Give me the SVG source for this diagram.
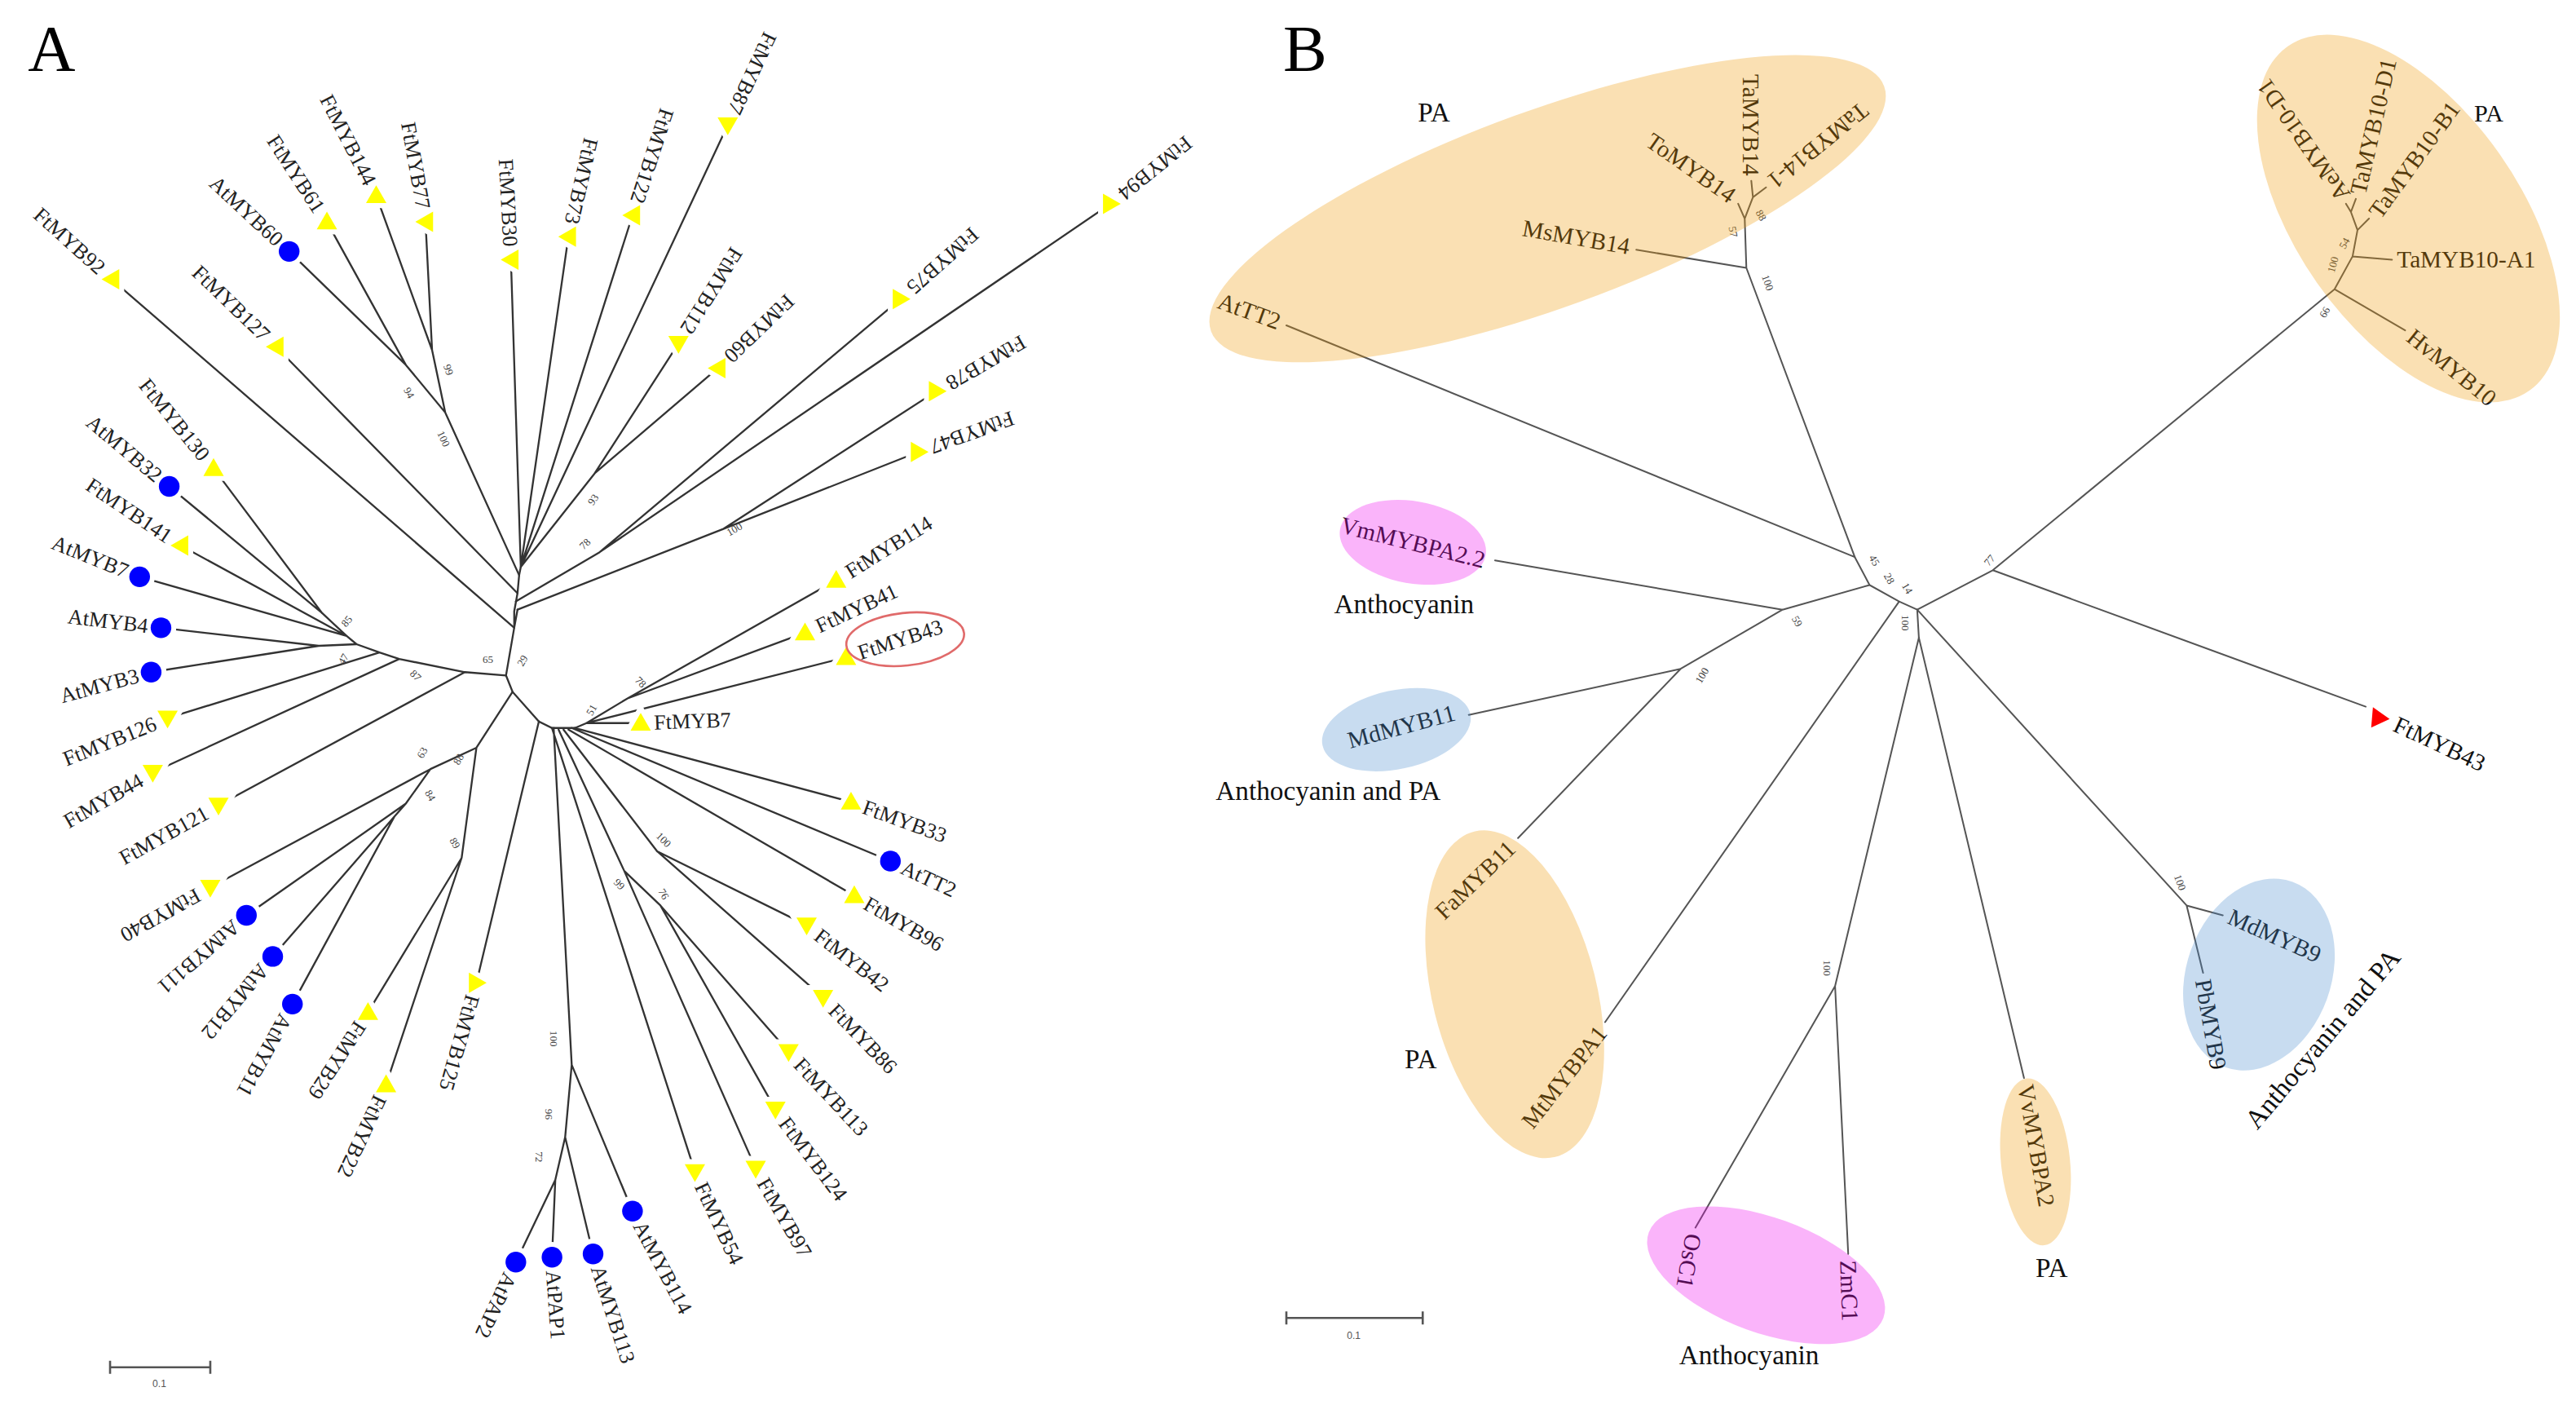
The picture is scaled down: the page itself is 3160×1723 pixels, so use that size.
<svg xmlns="http://www.w3.org/2000/svg" width="3160" height="1723" viewBox="0 0 3160 1723">
<defs>
<style>
.la{font-family:"Liberation Serif",serif;font-size:13px;fill:#222;dominant-baseline:central}
.lb{font-family:"Liberation Serif",serif;font-size:14.5px;fill:#111;dominant-baseline:central}
.gl{font-family:"Liberation Serif",serif;font-size:16.5px;fill:#111}
.bs{font-family:"Liberation Serif",serif;font-size:6.5px;fill:#444;text-anchor:middle;dominant-baseline:central}
.pl{font-family:"Liberation Serif",serif;font-size:40px;fill:#000}
.ed{fill:none;stroke:#333;stroke-width:1.15;stroke-linecap:round}
.edb{fill:none;stroke:#555;stroke-width:1;stroke-linecap:round}
.ty{fill:#FFFF00;stroke:#fff;stroke-width:6;paint-order:stroke}
.tr{fill:#FF0000;stroke:#fff;stroke-width:4;paint-order:stroke}
.cb{fill:#0000FF;stroke:#fff;stroke-width:6;paint-order:stroke}
.eo{fill:#EE9802;fill-opacity:0.3}
.ep{fill:#EE05EE;fill-opacity:0.3}
.eb{fill:#488ACD;fill-opacity:0.3}
.sb{fill:none;stroke:#555;stroke-width:1.3}
.sl{font-family:"Liberation Sans",sans-serif;font-size:6px;fill:#555;text-anchor:middle}
</style>
<path id="tri" d="M0,-6.2 L6.2,4.6 L-6.2,4.6Z"/>
</defs>
<rect width="3160" height="1723" fill="#fff"/>
<g transform="scale(2.01531)">
<text class="pl" x="17" y="43">A</text>
<text class="pl" x="781" y="43">B</text>

<g id="edges-a" class="ed">
<path d="M315,371 L313,382 L308,411 L312,421 L328,439 L336,443 L350,443 M313,382 L313,372 L315,361 L316,350 L317,345"/>
<path d="M313,382 L68,170 M315,361 L168,211 M316,350 L271,251 L247,222 M247,222 L176,153 M247,222 L199,135 M271,251 L263,213 M263,213 L229,119 M263,213 L259,135"/>
<path d="M317,345 L311,158 M317,345 L346,144 M317,345 L385,131 M317,345 L443,76 M317,345 L362,288 M362,288 L413,209 M362,288 L437,224"/>
<path d="M314,366 L365,336 M365,336 L548,182 M365,336 L676,124 M315,371 L440,322 M440,322 L570,238 M440,322 L559,275"/>
<path d="M308,411 L283,409 M283,409 L133,490 M283,409 L243,401 M243,401 L93,470 M243,401 L231,397 M231,397 L102,437 M231,397 L217,392 M217,392 L211,387 M217,392 L194,393 M194,393 L98,382 M194,393 L92,409 M211,387 L85,351 M211,387 L110,332 M211,387 L196,373 M196,373 L130,285 M196,373 L103,296"/>
<path d="M312,421 L290,455 M290,455 L262,468 M262,468 L128,540 M262,468 L247,489 M247,489 L150,557 M247,489 L240,497 M240,497 L166,582 M240,497 L178,611 M290,455 L281,522 M281,522 L224,616 M281,522 L235,660 M328,439 L290,598"/>
<path d="M337,443 L348,648 M348,648 L385,737 M348,648 L344,692 M344,692 L361,763 M344,692 L338,718 M338,718 L314,768 M338,718 L336,765 M336,443 L423,713"/>
<path d="M340,444 L380,530 M380,530 L460,711 M380,530 L402,551 M402,551 L472,675 M402,551 L480,640 M343,444 L400,518 M400,518 L501,607 M400,518 L491,563 M346,444 L520,545 M348,443 L542,524 M350,443 L518,488"/>
<path d="M350,443 L357,440 M357,440 L390,440 M357,440 L515,400 M357,440 L382,425 M382,425 L509,353 M382,425 L490,385"/>
</g>

<g id="bootstrap-a">
<text class="bs" transform="translate(249 239) rotate(60)">94</text>
<text class="bs" transform="translate(273 225) rotate(70)">99</text>
<text class="bs" transform="translate(270 267) rotate(65)">100</text>
<text class="bs" transform="translate(361 304) rotate(-55)">93</text>
<text class="bs" transform="translate(356 331) rotate(-45)">78</text>
<text class="bs" transform="translate(447 322) rotate(-30)">100</text>
<text class="bs" transform="translate(297 401)">65</text>
<text class="bs" transform="translate(318 402) rotate(-60)">29</text>
<text class="bs" transform="translate(253 411) rotate(45)">87</text>
<text class="bs" transform="translate(211 378) rotate(-50)">85</text>
<text class="bs" transform="translate(209 401) rotate(-60)">47</text>
<text class="bs" transform="translate(257 458) rotate(-60)">63</text>
<text class="bs" transform="translate(279 462) rotate(-60)">88</text>
<text class="bs" transform="translate(262 484) rotate(60)">84</text>
<text class="bs" transform="translate(277 513) rotate(60)">89</text>
<text class="bs" transform="translate(360 432) rotate(-60)">51</text>
<text class="bs" transform="translate(390 415) rotate(45)">78</text>
<text class="bs" transform="translate(404 511) rotate(45)">100</text>
<text class="bs" transform="translate(377 538) rotate(45)">99</text>
<text class="bs" transform="translate(404 544) rotate(60)">76</text>
<text class="bs" transform="translate(337 632) rotate(90)">100</text>
<text class="bs" transform="translate(334 678) rotate(90)">96</text>
<text class="bs" transform="translate(328 704) rotate(90)">72</text>
</g>

<g id="a-FtMYB92"><use href="#tri" class="ty" transform="translate(68 170) rotate(-90)"/><text class="la" text-anchor="end" transform="translate(62.1 164.6) rotate(42)">FtMYB92</text></g>
<g id="a-FtMYB127"><use href="#tri" class="ty" transform="translate(168 211) rotate(-90)"/><text class="la" text-anchor="end" transform="translate(162.2 205.4) rotate(44)">FtMYB127</text></g>
<g id="a-AtMYB60"><circle class="cb" cx="176" cy="153" r="6.3"/><text class="la" text-anchor="end" transform="translate(170.2 147.5) rotate(43)">AtMYB60</text></g>
<g id="a-FtMYB61"><use href="#tri" class="ty" transform="translate(199 135)"/><text class="la" text-anchor="end" transform="translate(194.6 128.3) rotate(57)">FtMYB61</text></g>
<g id="a-FtMYB144"><use href="#tri" class="ty" transform="translate(229 119)"/><text class="la" text-anchor="end" transform="translate(225.4 111.9) rotate(63)">FtMYB144</text></g>
<g id="a-FtMYB77"><use href="#tri" class="ty" transform="translate(259 135) rotate(-90)"/><text class="la" text-anchor="end" transform="translate(257.6 127.1) rotate(80)">FtMYB77</text></g>
<g id="a-FtMYB30"><use href="#tri" class="ty" transform="translate(311 158) rotate(-90)"/><text class="la" text-anchor="end" transform="translate(310.6 150) rotate(87)">FtMYB30</text></g>
<g id="a-FtMYB73"><use href="#tri" class="ty" transform="translate(346 144) rotate(-90)"/><text class="la" text-anchor="end" transform="translate(347.8 136.2) rotate(103)">FtMYB73</text></g>
<g id="a-FtMYB122"><use href="#tri" class="ty" transform="translate(385 131) rotate(-90)"/><text class="la" text-anchor="end" transform="translate(387.5 123.4) rotate(108)">FtMYB122</text></g>
<g id="a-FtMYB87"><use href="#tri" class="ty" transform="translate(443 76) rotate(180)"/><text class="la" text-anchor="end" transform="translate(446.4 68.8) rotate(115)">FtMYB87</text></g>
<g id="a-FtMYB112"><use href="#tri" class="ty" transform="translate(413 209) rotate(180)"/><text class="la" text-anchor="end" transform="translate(417.2 202.2) rotate(122)">FtMYB112</text></g>
<g id="a-FtMYB60"><use href="#tri" class="ty" transform="translate(437 224) rotate(-90)"/><text class="la" text-anchor="end" transform="translate(442.8 218.4) rotate(136)">FtMYB60</text></g>
<g id="a-FtMYB75"><use href="#tri" class="ty" transform="translate(548 182) rotate(90)"/><text class="la" text-anchor="end" transform="translate(553.9 176.6) rotate(138)">FtMYB75</text></g>
<g id="a-FtMYB94"><use href="#tri" class="ty" transform="translate(676 124) rotate(90)"/><text class="la" text-anchor="end" transform="translate(682.2 119) rotate(141)">FtMYB94</text></g>
<g id="a-FtMYB78"><use href="#tri" class="ty" transform="translate(570 238) rotate(90)"/><text class="la" text-anchor="end" transform="translate(576.9 234) rotate(150)">FtMYB78</text></g>
<g id="a-FtMYB47"><use href="#tri" class="ty" transform="translate(559 275) rotate(90)"/><text class="la" text-anchor="end" transform="translate(566.5 272.3) rotate(160)">FtMYB47</text></g>
<g id="a-FtMYB114"><use href="#tri" class="ty" transform="translate(509 353)"/><text class="la" transform="translate(515.8 348.8) rotate(-32)">FtMYB114</text></g>
<g id="a-FtMYB41"><use href="#tri" class="ty" transform="translate(490 385)"/><text class="la" transform="translate(497.2 381.6) rotate(-25)">FtMYB41</text></g>
<g id="a-FtMYB43"><use href="#tri" class="ty" transform="translate(515 400)"/><text class="la" transform="translate(522.6 397.5) rotate(-18)">FtMYB43</text><ellipse cx="551" cy="389" rx="36" ry="16" transform="rotate(-6 551 389)" fill="none" stroke="#E06A6A" stroke-width="1.3"/></g>
<g id="a-FtMYB7"><use href="#tri" class="ty" transform="translate(390 440)"/><text class="la" transform="translate(398 439.7) rotate(-2)">FtMYB7</text></g>
<g id="a-FtMYB33"><use href="#tri" class="ty" transform="translate(518 488)"/><text class="la" transform="translate(525.5 490.7) rotate(20)">FtMYB33</text></g>
<g id="a-AtTT2"><circle class="cb" cx="542" cy="524" r="6.3"/><text class="la" transform="translate(549.2 527.4) rotate(25)">AtTT2</text></g>
<g id="a-FtMYB96"><use href="#tri" class="ty" transform="translate(520 545)"/><text class="la" transform="translate(526.9 549) rotate(30)">FtMYB96</text></g>
<g id="a-FtMYB42"><use href="#tri" class="ty" transform="translate(491 563) rotate(180)"/><text class="la" transform="translate(497.3 567.9) rotate(38)">FtMYB42</text></g>
<g id="a-FtMYB86"><use href="#tri" class="ty" transform="translate(501 607) rotate(180)"/><text class="la" transform="translate(506.6 612.8) rotate(46)">FtMYB86</text></g>
<g id="a-FtMYB113"><use href="#tri" class="ty" transform="translate(480 640) rotate(180)"/><text class="la" transform="translate(485.5 645.8) rotate(47)">FtMYB113</text></g>
<g id="a-FtMYB124"><use href="#tri" class="ty" transform="translate(472 675) rotate(180)"/><text class="la" transform="translate(476.8 681.4) rotate(53)">FtMYB124</text></g>
<g id="a-FtMYB97"><use href="#tri" class="ty" transform="translate(460 711) rotate(180)"/><text class="la" transform="translate(464 717.9) rotate(60)">FtMYB97</text></g>
<g id="a-FtMYB54"><use href="#tri" class="ty" transform="translate(423 713) rotate(180)"/><text class="la" transform="translate(426.4 720.2) rotate(65)">FtMYB54</text></g>
<g id="a-AtMYB114"><circle class="cb" cx="385" cy="737" r="6.3"/><text class="la" transform="translate(388.8 744.1) rotate(62)">AtMYB114</text></g>
<g id="a-AtMYB113"><circle class="cb" cx="361" cy="763" r="6.3"/><text class="la" transform="translate(363.5 770.6) rotate(72)">AtMYB113</text></g>
<g id="a-AtPAP1"><circle class="cb" cx="336" cy="765" r="6.3"/><text class="la" transform="translate(336.6 773) rotate(86)">AtPAP1</text></g>
<g id="a-AtPAP2"><circle class="cb" cx="314" cy="768" r="6.3"/><text class="la" transform="translate(310.6 775.2) rotate(115)">AtPAP2</text></g>
<g id="a-FtMYB22"><use href="#tri" class="ty" transform="translate(235 660)"/><text class="la" transform="translate(231.6 667.2) rotate(115)">FtMYB22</text></g>
<g id="a-FtMYB125"><use href="#tri" class="ty" transform="translate(290 598) rotate(90)"/><text class="la" transform="translate(287.8 605.7) rotate(106)">FtMYB125</text></g>
<g id="a-FtMYB29"><use href="#tri" class="ty" transform="translate(224 616)"/><text class="la" transform="translate(219.6 622.7) rotate(123)">FtMYB29</text></g>
<g id="a-AtMYB11"><circle class="cb" cx="178" cy="611" r="6.3"/><text class="la" transform="translate(174.1 618) rotate(119)">AtMYB11</text></g>
<g id="a-AtMYB12"><circle class="cb" cx="166" cy="582" r="6.3"/><text class="la" transform="translate(160.9 588.1) rotate(130)">AtMYB12</text></g>
<g id="a-AtMYB111"><circle class="cb" cx="150" cy="557" r="6.3"/><text class="la" transform="translate(144 562.2) rotate(139)">AtMYB111</text></g>
<g id="a-FtMYB40"><use href="#tri" class="ty" transform="translate(128 540) rotate(180)"/><text class="la" transform="translate(121 543.9) rotate(151)">FtMYB40</text></g>
<g id="a-FtMYB121"><use href="#tri" class="ty" transform="translate(133 490) rotate(180)"/><text class="la" text-anchor="end" transform="translate(126 493.9) rotate(-29)">FtMYB121</text></g>
<g id="a-FtMYB44"><use href="#tri" class="ty" transform="translate(93 470) rotate(180)"/><text class="la" text-anchor="end" transform="translate(86.1 474) rotate(-30)">FtMYB44</text></g>
<g id="a-FtMYB126"><use href="#tri" class="ty" transform="translate(102 437) rotate(180)"/><text class="la" text-anchor="end" transform="translate(94.6 440) rotate(-22)">FtMYB126</text></g>
<g id="a-AtMYB3"><circle class="cb" cx="92" cy="409" r="6.3"/><text class="la" text-anchor="end" transform="translate(84.3 411.1) rotate(-15)">AtMYB3</text></g>
<g id="a-AtMYB4"><circle class="cb" cx="98" cy="382" r="6.3"/><text class="la" text-anchor="end" transform="translate(90.1 381) rotate(7)">AtMYB4</text></g>
<g id="a-AtMYB7"><circle class="cb" cx="85" cy="351" r="6.3"/><text class="la" text-anchor="end" transform="translate(77.6 348) rotate(22)">AtMYB7</text></g>
<g id="a-FtMYB141"><use href="#tri" class="ty" transform="translate(110 332) rotate(-90)"/><text class="la" text-anchor="end" transform="translate(103.4 327.5) rotate(34)">FtMYB141</text></g>
<g id="a-AtMYB32"><circle class="cb" cx="103" cy="296" r="6.3"/><text class="la" text-anchor="end" transform="translate(96.9 290.9) rotate(40)">AtMYB32</text></g>
<g id="a-FtMYB130"><use href="#tri" class="ty" transform="translate(130 285)"/><text class="la" text-anchor="end" transform="translate(125 278.8) rotate(51)">FtMYB130</text></g>

<g id="scale-a"><path class="sb" d="M67,832 L128,832 M67,828 L67,836 M128,828 L128,836"/><text class="sl" x="97" y="844">0.1</text></g>

<g id="edges-b" class="edb">
<path d="M783,198 L1129,339 M1129,339 L1063,163 M1063,163 L996,152 M1063,163 L1062,133 M1062,133 L1058,124 M1062,133 L1067,120 M1067,120 L1066,110 M1067,120 L1075,114"/>
<path d="M1129,339 L1138,356 L1156,366 L1167,371 L1168,388 M1138,356 L1085,371 M1085,371 L910,341 M1085,371 L1023,407 M1023,407 L894,435 M1023,407 L924,510 M1156,366 L977,622"/>
<path d="M1167,371 L1213,347 M1213,347 L1440,430 M1213,347 L1421,176 M1421,176 L1464,201 M1421,176 L1432,156 M1432,156 L1456,158 M1432,156 L1435,140 M1435,140 L1442,133 M1435,140 L1431,129 M1431,129 L1428,124 M1431,129 L1434,121"/>
<path d="M1168,388 L1117,600 M1117,600 L1032,747 M1117,600 L1125,763 M1168,388 L1232,656 M1167,371 L1331,551 M1331,551 L1353,557 M1331,551 L1341,592"/>
</g>

<g id="bootstrap-b">
<text class="bs" transform="translate(1076 172) rotate(70)">100</text>
<text class="bs" transform="translate(1055 141) rotate(80)">57</text>
<text class="bs" transform="translate(1072 131) rotate(60)">88</text>
<text class="bs" transform="translate(1141 341) rotate(60)">45</text>
<text class="bs" transform="translate(1150 352) rotate(60)">28</text>
<text class="bs" transform="translate(1161 358) rotate(60)">14</text>
<text class="bs" transform="translate(1160 379) rotate(90)">100</text>
<text class="bs" transform="translate(1211 341) rotate(-50)">77</text>
<text class="bs" transform="translate(1094 378) rotate(60)">59</text>
<text class="bs" transform="translate(1036 411) rotate(-60)">100</text>
<text class="bs" transform="translate(1415 190) rotate(-60)">66</text>
<text class="bs" transform="translate(1420 161) rotate(-75)">100</text>
<text class="bs" transform="translate(1427 148) rotate(-60)">54</text>
<text class="bs" transform="translate(1112 589) rotate(90)">100</text>
<text class="bs" transform="translate(1327 537) rotate(70)">100</text>
</g>

<g id="b-AtTT2"><text class="lb" text-anchor="end" transform="translate(779 196) rotate(20)">AtTT2</text></g>
<g id="b-MsMYB14"><text class="lb" text-anchor="end" transform="translate(992 150) rotate(10)">MsMYB14</text></g>
<g id="b-ToMYB14"><text class="lb" text-anchor="end" transform="translate(1055 120) rotate(35)">ToMYB14</text></g>
<g id="b-TaMYB14"><text class="lb" text-anchor="end" transform="translate(1066 107) rotate(90)">TaMYB14</text></g>
<g id="b-TaMYB14-1"><text class="lb" text-anchor="end" transform="translate(1078 112) rotate(141)">TaMYB14-1</text></g>
<g id="b-VmMYBPA2.2"><text class="lb" text-anchor="middle" transform="translate(860 330) rotate(14)">VmMYBPA2.2</text></g>
<g id="b-MdMYB11"><text class="lb" text-anchor="middle" transform="translate(853 442) rotate(-15)">MdMYB11</text></g>
<g id="b-FaMYB11"><text class="lb" text-anchor="end" transform="translate(920 514) rotate(-44)">FaMYB11</text></g>
<g id="b-MtMYBPA1"><text class="lb" text-anchor="end" transform="translate(975 626) rotate(-52)">MtMYBPA1</text></g>
<g id="b-OsC1"><text class="lb" transform="translate(1031 751) rotate(100)">OsC1</text></g>
<g id="b-ZmC1"><text class="lb" transform="translate(1125 767) rotate(88)">ZmC1</text></g>
<g id="b-VvMYBPA2"><text class="lb" transform="translate(1233 660) rotate(80)">VvMYBPA2</text></g>
<g id="b-PbMYB9"><text class="lb" transform="translate(1341 596) rotate(80)">PbMYB9</text></g>
<g id="b-MdMYB9"><text class="lb" transform="translate(1357 557) rotate(24)">MdMYB9</text></g>
<g id="b-FtMYB43"><use href="#tri" class="tr" transform="translate(1447 436) rotate(-25)"/><text class="lb" transform="translate(1458 440) rotate(25)">FtMYB43</text></g>
<g id="b-HvMYB10"><text class="lb" transform="translate(1467 203) rotate(39)">HvMYB10</text></g>
<g id="b-TaMYB10-A1"><text class="lb" transform="translate(1459 158)">TaMYB10-A1</text></g>
<g id="b-TaMYB10-B1"><text class="lb" transform="translate(1445 131) rotate(-54)">TaMYB10-B1</text></g>
<g id="b-TaMYB10-D1"><text class="lb" transform="translate(1435 118) rotate(-77)">TaMYB10-D1</text></g>
<g id="b-AeMYB10-D1"><text class="lb" transform="translate(1427 121) rotate(-125)">AeMYB10-D1</text></g>

<g id="clades-b">
<ellipse class="eo" cx="942" cy="127" rx="218" ry="60" transform="rotate(-20 942 127)"/>
<ellipse class="eo" cx="1466" cy="133" rx="128" ry="68" transform="rotate(55 1466 133)"/>
<ellipse class="ep" cx="860" cy="330" rx="45" ry="25" transform="rotate(10 860 330)"/>
<ellipse class="eb" cx="850" cy="444" rx="46" ry="24" transform="rotate(-12 850 444)"/>
<ellipse class="eo" cx="922" cy="605" rx="50" ry="102" transform="rotate(-14 922 605)"/>
<ellipse class="eb" cx="1375" cy="593" rx="44" ry="60" transform="rotate(20 1375 593)"/>
<ellipse class="ep" cx="1075" cy="776" rx="76" ry="35" transform="rotate(20 1075 776)"/>
<ellipse class="eo" cx="1239" cy="707" rx="21" ry="51" transform="rotate(-6 1239 707)"/>
</g>

<g id="labels-b">
<text class="gl" x="863" y="74">PA</text>
<text class="gl" x="1506" y="74" style="font-size:15px">PA</text>
<text class="gl" x="812" y="373">Anthocyanin</text>
<text class="gl" x="740" y="487">Anthocyanin and PA</text>
<text class="gl" x="855" y="650">PA</text>
<text class="gl" x="1239" y="777">PA</text>
<text class="gl" x="1022" y="830">Anthocyanin</text>
<text class="gl" transform="translate(1374 688) rotate(-50)">Anthocyanin and PA</text>
</g>

<g id="scale-b"><path class="sb" d="M783,802 L866,802 M783,798 L783,806 M866,798 L866,806"/><text class="sl" x="824" y="815">0.1</text></g>
</g>
</svg>
